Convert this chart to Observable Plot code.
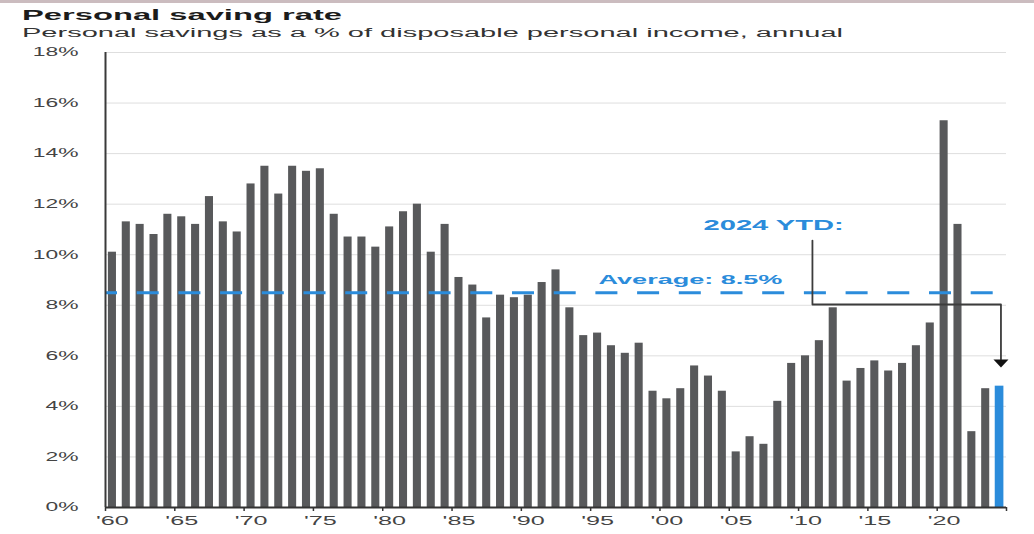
<!DOCTYPE html>
<html><head><meta charset="utf-8">
<script src="https://cdn.jsdelivr.net/npm/d3@7"></script>
<script src="https://cdn.jsdelivr.net/npm/@observablehq/plot@0.6"></script>
<style>
body{margin:0;background:#fff;font-family:"Liberation Sans",Arial,sans-serif;}
#wrap{position:relative;width:1034px;height:534px;overflow:hidden;background:#fff;}
#head{position:relative;height:42px;}
#strip{position:absolute;left:0;top:0;width:1034px;height:3px;background:#cbbcbf;}
.t{position:absolute;left:22px;white-space:nowrap;transform-origin:0 0;line-height:1;}
#title{top:7.3px;font-size:15px;font-weight:bold;color:#1b1b1b;}
#sub{top:26.7px;font-size:12.5px;color:#333;}
#chart svg{display:block;}
</style></head>
<body>
<div id="wrap">
  <div id="head">
    <div id="strip"></div>
    <div class="t" id="title">Personal saving rate</div>
    <div class="t" id="sub">Personal savings as a % of disposable personal income, annual</div>
  </div>
  <div id="chart"></div>
</div>
<script>
// ---- data ----
const years = [1960,1961,1962,1963,1964,1965,1966,1967,1968,1969,
  1970,1971,1972,1973,1974,1975,1976,1977,1978,1979,
  1980,1981,1982,1983,1984,1985,1986,1987,1988,1989,
  1990,1991,1992,1993,1994,1995,1996,1997,1998,1999,
  2000,2001,2002,2003,2004,2005,2006,2007,2008,2009,
  2010,2011,2012,2013,2014,2015,2016,2017,2018,2019,
  2020,2021,2022,2023,2024];
const savingRate = [10.1,11.3,11.2,10.8,11.6,11.5,11.2,12.3,11.3,10.9,
  12.8,13.5,12.4,13.5,13.3,13.4,11.6,10.7,10.7,10.3,
  11.1,11.7,12.0,10.1,11.2,9.1,8.8,7.5,8.4,8.3,
  8.4,8.9,9.4,7.9,6.8,6.9,6.4,6.1,6.5,4.6,
  4.3,4.7,5.6,5.2,4.6,2.2,2.8,2.5,4.2,5.7,
  6.0,6.6,7.9,5.0,5.5,5.8,5.4,5.7,6.4,7.3,
  15.3,11.2,3.0,4.7,4.8];
const highlightYear = 2024;
const average = [8.5];
const yTicks = [0,2,4,6,8,10,12,14,16,18];
const xLabelYears = [1960,1965,1970,1975,1980,1985,1990,1995,2000,2005,2010,2015,2020];
const xTickBounds = [1960,1965,1970,1975,1980,1985,1990,1995,2000,2005,2010,2015,2020,2025];
const avgLabel = [{x: 2002.2, y: 9.02, text: "Average: 8.5%"}];
const ytdLabel = [{x: 2008.2, y: 11.15, text: "2024 YTD:"}];
const ytdPath = [{x: 2011, y: 10.56}, {x: 2011, y: 8.03}, {x: 2024.6, y: 8.03}, {x: 2024.6, y: 5.86}];
const ytdArrow = [{x: 2024.6, y: 5.7}];

const data = years.map((year, i) => ({year, value: savingRate[i]}));

const gray = "#58595b";
const blue = "#2b8cdb";
const font = '"Liberation Sans", Arial, sans-serif';

const arrowHead = {
  draw(ctx) {
    ctx.moveTo(-7.5, -4);
    ctx.lineTo(7.5, -4);
    ctx.lineTo(0, 4);
    ctx.closePath();
  }
};

const chart = Plot.plot({
  width: 1034,
  height: 492,
  marginTop: 10,
  marginBottom: 27,
  marginLeft: 105,
  marginRight: 28,
  x: {type: "linear", domain: [1960, 2025], label: null},
  y: {domain: [0, 18], label: null},
  style: {fontFamily: font, background: "transparent", overflow: "visible"},
  marks: [
    Plot.gridY(yTicks, {stroke: "#dedede", strokeOpacity: 1, strokeWidth: 1}),
    Plot.rectY(data.filter(d => d.year !== highlightYear), {x1: "year", x2: d => d.year + 1, y: "value", fill: gray, insetLeft: 2.9, insetRight: 2.9}),
    Plot.rectY(data.filter(d => d.year === highlightYear), {x1: "year", x2: d => d.year + 1, y: "value", fill: blue, insetLeft: 2.6, insetRight: 2.6}),
    Plot.ruleY(average, {stroke: blue, strokeWidth: 3, strokeDasharray: "22,19.7", strokeDashoffset: 10}),
    Plot.ruleY([0], {stroke: "#333", strokeWidth: 2}),
    Plot.ruleX([1960], {y1: 0, y2: 18, stroke: "#3a3a3a", strokeWidth: 2}),
    Plot.axisY(yTicks, {tickSize: 0, tickPadding: 27, tickFormat: d => d + "%", fontSize: 12, fill: "#444", label: null}),
    Plot.axisX(xTickBounds, {tickSize: 4, stroke: "#333", strokeWidth: 1.5, fill: "none", label: null}),
    Plot.axisX(xLabelYears.map(y => y + 0.5), {tickSize: 0, tickPadding: 9, fontSize: 12, fill: "#444", tickFormat: d => "'" + String(Math.floor(d)).slice(2), label: null}),
    Plot.line(ytdPath, {x: "x", y: "y", stroke: "#3c3c3c", strokeWidth: 1.8, curve: "linear"}),
    Plot.dot(ytdArrow, {x: "x", y: "y", symbol: arrowHead, fill: "#111", stroke: "none"}),
    Plot.text(avgLabel, {x: "x", y: "y", text: "text", fill: blue, fontSize: 13, fontWeight: "bold"}),
    Plot.text(ytdLabel, {x: "x", y: "y", text: "text", fill: blue, fontSize: 14, fontWeight: "bold"})
  ]
});

document.getElementById("chart").appendChild(chart);

// The reference is horizontally stretched; reproduce by stretching glyphs.
function stretch(selector, factor) {
  chart.querySelectorAll(selector).forEach(t => {
    const w = t.getComputedTextLength();
    if (w > 0) {
      t.setAttribute("textLength", (w * factor).toFixed(1));
      t.setAttribute("lengthAdjust", "spacingAndGlyphs");
    }
  });
}
stretch('g[aria-label="y-axis tick label"] text', 1.9);
stretch('g[aria-label="x-axis tick label"] text', 2.1);
stretch('g[aria-label="text"] text', 2.08);

function stretchHtml(id, target) {
  const el = document.getElementById(id);
  const w = el.getBoundingClientRect().width;
  el.style.transform = `scaleX(${target / w})`;
}
stretchHtml("title", 320);
stretchHtml("sub", 821);
</script>
</body></html>
